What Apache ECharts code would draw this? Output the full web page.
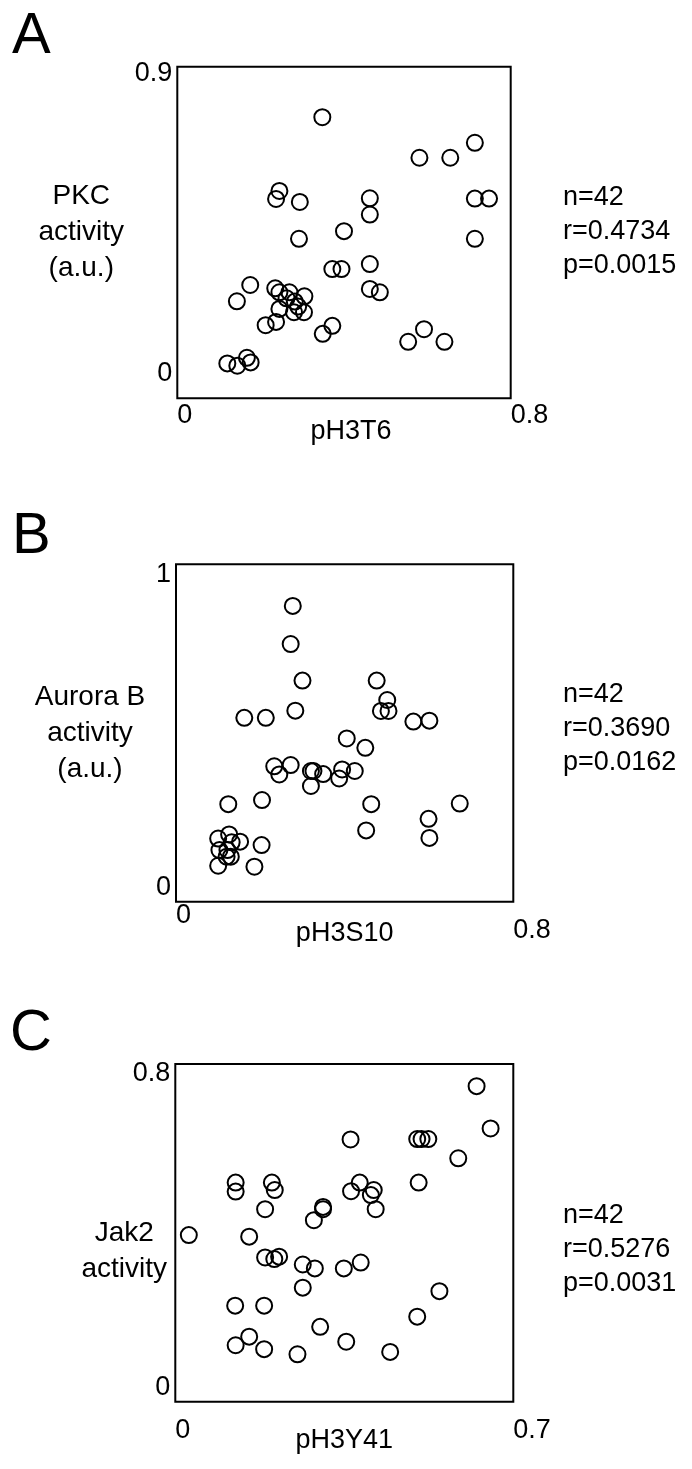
<!DOCTYPE html>
<html><head><meta charset="utf-8">
<script src="https://cdn.jsdelivr.net/npm/echarts@6/dist/echarts.min.js"></script>
<style>html,body{margin:0;padding:0;background:#fff}#c{width:692px;height:1469px}</style>
</head><body><div id="c"></div><script>
// ---- data ----
const panelLetters = ['A', 'B', 'C'];
const xNames = ['pH3T6', 'pH3S10', 'pH3Y41'];
const yNames = ['PKC\nactivity\n(a.u.)', 'Aurora B\nactivity\n(a.u.)', 'Jak2\nactivity'];
const xTicksA = [0, 0.8], yTicksA = [0, 0.9];
const xTicksB = [0, 0.8], yTicksB = [0, 1];
const xTicksC = [0, 0.7], yTicksC = [0, 0.8];
const statsA = ['n=42', 'r=0.4734', 'p=0.0015'];
const statsB = ['n=42', 'r=0.3690', 'p=0.0162'];
const statsC = ['n=42', 'r=0.5276', 'p=0.0031'];

const aX = [0.348,0.714,0.581,0.655,0.245,0.237,0.294,0.462,0.462,0.714,0.748,0.714,0.292,0.400,0.372,0.394,0.462,0.462,0.486,0.175,0.143,0.235,0.245,0.269,0.305,0.282,0.245,0.280,0.304,0.237,0.212,0.349,0.372,0.592,0.554,0.641,0.120,0.144,0.167,0.176,0.262,0.290];
const aY = [0.770,0.693,0.648,0.648,0.548,0.524,0.515,0.526,0.477,0.525,0.525,0.404,0.404,0.427,0.313,0.313,0.328,0.253,0.243,0.265,0.216,0.255,0.243,0.243,0.231,0.215,0.193,0.183,0.183,0.154,0.144,0.118,0.142,0.132,0.094,0.094,0.029,0.022,0.046,0.032,0.225,0.200];

const bX = [0.277,0.272,0.300,0.476,0.501,0.486,0.504,0.283,0.162,0.213,0.563,0.601,0.405,0.449,0.233,0.245,0.272,0.320,0.326,0.349,0.320,0.394,0.387,0.424,0.124,0.204,0.463,0.673,0.599,0.451,0.601,0.100,0.126,0.152,0.132,0.103,0.122,0.130,0.100,0.203,0.186,0.120];
const bY = [0.901,0.779,0.662,0.662,0.600,0.565,0.565,0.566,0.543,0.543,0.531,0.534,0.477,0.447,0.388,0.362,0.392,0.373,0.373,0.363,0.325,0.378,0.349,0.373,0.267,0.280,0.267,0.269,0.220,0.183,0.159,0.157,0.170,0.147,0.145,0.120,0.120,0.099,0.070,0.136,0.067,0.099];

const cX = [0.624,0.653,0.363,0.501,0.510,0.524,0.586,0.125,0.125,0.200,0.206,0.382,0.364,0.411,0.405,0.504,0.186,0.306,0.306,0.287,0.415,0.028,0.153,0.186,0.205,0.215,0.264,0.289,0.349,0.384,0.264,0.547,0.124,0.184,0.501,0.300,0.153,0.125,0.184,0.354,0.253,0.445];
const cY = [0.769,0.661,0.633,0.634,0.634,0.634,0.585,0.523,0.500,0.523,0.504,0.523,0.501,0.504,0.491,0.523,0.455,0.461,0.455,0.427,0.455,0.389,0.385,0.332,0.328,0.334,0.314,0.304,0.304,0.319,0.255,0.246,0.209,0.209,0.181,0.155,0.130,0.108,0.098,0.117,0.085,0.091];

// ---- layout / style ----
const FONT = 'Liberation Sans, Arial, sans-serif';
const panels = [
  {xs: aX, ys: aY, xt: xTicksA, yt: yTicksA, stats: statsA,
   grid: {left: 177.3, top: 66.7, width: 333.4, height: 331.6},
   xMin: 0, xMax: 0.8, yMin: -0.076, yMax: 0.922,
   xLabelMargin: 4, xNameGap: 20, xNamePad: [0,0,0,14], yNameGap: 96, yNameLead: '',
   letterPos: [12, 8], statsPos: [563, 198]},
  {xs: bX, ys: bY, xt: xTicksB, yt: yTicksB, stats: statsB,
   grid: {left: 176, top: 564.3, width: 337.3, height: 337.4},
   xMin: 0, xMax: 0.8, yMin: -0.045, yMax: 1.034,
   xLabelMargin: 0, xNameGap: 18, xNamePad: [0,0,0,0], yNameGap: 86, yNameLead: '',
   letterPos: [12, 508], statsPos: [563, 695], lowMax: true},
  {xs: cX, ys: cY, xt: xTicksC, yt: yTicksC, stats: statsC,
   grid: {left: 175.3, top: 1064, width: 338, height: 337.7},
   xMin: 0, xMax: 0.7, yMin: -0.036, yMax: 0.8255,
   xLabelMargin: 15, xNameGap: 25, xNamePad: [0,0,0,0], yNameGap: 51, yNameLead: '\n',
   letterPos: [10, 1005], statsPos: [563, 1216]}
];

const grids = [], xAxes = [], yAxes = [], series = [], graphics = [];
panels.forEach((p, i) => {
  grids.push(Object.assign({show: true, borderColor: '#000', borderWidth: 2, backgroundColor: '#fff'}, p.grid));
  xAxes.push({
    type: 'value', gridIndex: i, min: p.xMin, max: p.xMax,
    name: xNames[i], nameLocation: 'middle', nameGap: p.xNameGap, nameMoveOverlap: false,
    nameTextStyle: {fontFamily: FONT, fontSize: 27, color: '#000', padding: p.xNamePad, verticalAlign: 'top'},
    axisLine: {show: false}, axisTick: {show: false}, splitLine: {show: false},
    axisLabel: {
      customValues: p.xt, fontFamily: FONT, fontSize: 27, color: '#000', align: 'left',
      margin: p.xLabelMargin, hideOverlap: false,
      formatter: v => (p.lowMax && v === p.xt[1]) ? '{low|' + v + '}' : String(v),
      rich: {low: {fontFamily: FONT, fontSize: 27, color: '#000', padding: [15, 0, 0, 0]}}
    }
  });
  yAxes.push({
    type: 'value', gridIndex: i, min: p.yMin, max: p.yMax,
    name: p.yNameLead + yNames[i],
    nameLocation: 'middle', nameRotate: 0, nameGap: p.yNameGap, nameMoveOverlap: false,
    nameTextStyle: {fontFamily: FONT, fontSize: 28, lineHeight: 36, color: '#000', align: 'center', verticalAlign: 'middle'},
    axisLine: {show: false}, axisTick: {show: false}, splitLine: {show: false},
    axisLabel: {customValues: p.yt, fontFamily: FONT, fontSize: 27, color: '#000', margin: 5, hideOverlap: false,
      formatter: v => String(v)}
  });
  series.push({
    type: 'scatter', xAxisIndex: i, yAxisIndex: i, symbol: 'circle', symbolSize: 16,
    itemStyle: {color: 'rgba(255,255,255,0)', borderColor: '#000', borderWidth: 2, opacity: 1},
    emphasis: {disabled: true},
    data: p.xs.map((x, k) => [x, p.ys[k]])
  });
  graphics.push({type: 'text', left: p.letterPos[0], top: p.letterPos[1],
    style: {text: panelLetters[i], fontFamily: FONT, fontSize: 58, fill: '#000'}});
  graphics.push({type: 'text', left: p.statsPos[0], top: p.statsPos[1] - 17,
    style: {text: p.stats.join('\n'), fontFamily: FONT, fontSize: 27, lineHeight: 34, fill: '#000'}});
});

const chart = echarts.init(document.getElementById('c'), null, {renderer: 'canvas'});
chart.setOption({
  animation: false, backgroundColor: '#fff',
  grid: grids, xAxis: xAxes, yAxis: yAxes, series: series, graphic: graphics
});
</script></body></html>
